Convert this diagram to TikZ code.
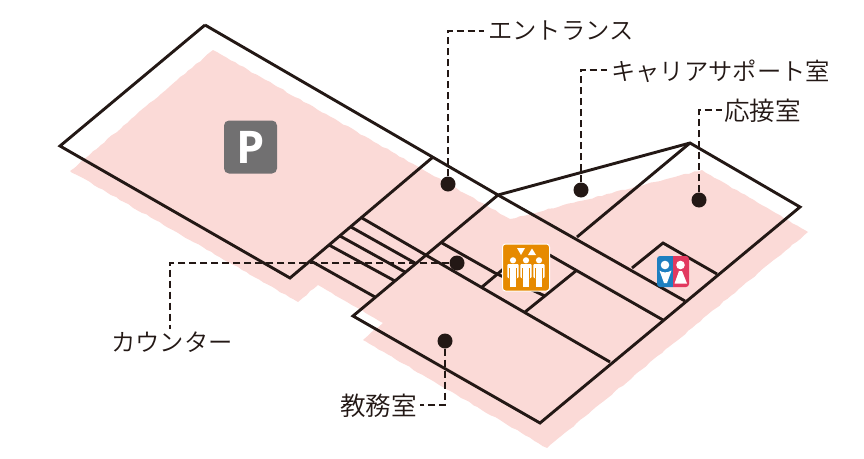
\documentclass[tikz,border=0pt]{standalone}
\usepackage{fontspec}
\setmainfont{Noto Sans CJK JP}[UprightFont=* DemiLight]
\newfontfamily\pfont{Open Sans}
\usetikzlibrary{decorations.pathmorphing}
\definecolor{ink}{HTML}{231815}
\definecolor{blush}{HTML}{FBDAD7}
\definecolor{liftorange}{HTML}{E68A00}
\definecolor{pgray}{HTML}{717071}
\definecolor{wcblue}{HTML}{1E7FC0}
\definecolor{wcred}{HTML}{E2395F}
\tikzset{
  wall/.style={draw=ink,line width=2.9pt,line join=miter},
  leader/.style={draw=ink,line width=1.7pt,dash pattern=on 7pt off 4pt},
  spot/.style={circle,fill=ink,minimum size=15pt,inner sep=0pt},
  kanalabel/.style={text=ink,font=\fontsize{24.3pt}{26pt}\selectfont,inner sep=0pt},
  kanjilabel/.style={text=ink,font=\fontsize{25.6pt}{27pt}\selectfont,inner sep=0pt},
  person/.style={fill=white}
}
\newcommand{\liftman}[1]{%
  \fill[person] (#1,260.3) circle (3.1);
  \fill[person,rounded corners=1] (#1-5.6,264) rectangle (#1+5.6,278);
  \fill[liftorange] (#1-3.7,268) rectangle (#1-3.2,278);
  \fill[liftorange] (#1+3.2,268) rectangle (#1+3.7,278);
  \fill[person] (#1-3.2,276) rectangle (#1-0.3,287);
  \fill[person] (#1+0.3,276) rectangle (#1+3.2,287);
}
\begin{document}
\begin{tikzpicture}[x=1pt,y=-1pt]
\useasboundingbox (0,0) rectangle (864,458);
% pink floor
\fill[blush,decorate,decoration={random steps,segment length=5pt,amplitude=0.6pt}]
  (213,50) -- (510,219) -- (702,170) -- (808,232) -- (547,448) -- (363,340)
  -- (383,323) -- (318,285) -- (298,302) -- (70,171) -- cycle;
% vertices
\coordinate (lotTop) at (205,25);
\coordinate (lotLeft) at (60,146);
\coordinate (lotBot) at (290,278);
\coordinate (lotIn) at (433,157);
\coordinate (hub) at (498,195);
\coordinate (apex) at (690,143);
\coordinate (east) at (800,207);
\coordinate (south) at (540,423);
\coordinate (west) at (353,316);
% outer walls
\draw[wall] (lotTop) -- (hub) -- (apex) -- (east) -- (south) -- (west) -- (hub);
\draw[wall] (lotTop) -- (lotLeft) -- (lotBot) -- (lotIn);
% interior walls
\draw[wall] (hub) -- (685,301);
\draw[wall] (apex) -- (577,237);
\draw[wall] (632,268) -- (663,243) -- (717,274);
\draw[wall] (362,218) -- (610,362);
\draw[wall] (351,227) -- (415,263);
\draw[wall] (340,236) -- (405,272);
\draw[wall] (329,245) -- (395,281);
\draw[wall] (311,261) -- (375,297);
\draw[wall] (442,243) -- (495,273) -- (545,296);
\draw[wall] (482,287) -- (532,245);
\draw[wall] (532,245) -- (663,320);
\draw[wall] (525,312) -- (577,270);
% leaders and labels
\node[spot] (dotEnt) at (448,184) {};
\node[spot] (dotCar) at (581,190) {};
\node[spot] (dotRec) at (699,200) {};
\node[spot] (dotCou) at (457,263) {};
\node[spot] (dotOff) at (445,341) {};
\node[kanalabel,anchor=west] (lblEnt) at (488,31) {エントランス};
\node[kanalabel,anchor=west] (lblCar) at (611,71) {キャリアサポート室};
\node[kanjilabel,anchor=west] (lblRec) at (724,111) {応接室};
\node[kanalabel,anchor=east] (lblCou) at (233,342) {カウンター};
\node[kanjilabel,anchor=east] (lblOff) at (417,406) {教務室};
\coordinate (bendEnt) at (448,31);
\coordinate (endEnt) at (484,31);
\coordinate (bendCar) at (581,70);
\coordinate (endCar) at (607,70);
\coordinate (bendRec) at (699,110);
\coordinate (endRec) at (722,110);
\coordinate (bendCou) at (170,263);
\coordinate (endCou) at (170,329);
\coordinate (bendOff) at (445,405);
\coordinate (endOff) at (420,405);
\draw[leader] (dotEnt) -- (bendEnt) -- (endEnt);
\draw[leader] (dotCar) -- (bendCar) -- (endCar);
\draw[leader] (dotRec) -- (bendRec) -- (endRec);
\draw[leader] (dotCou) -- (bendCou) -- (endCou);
\draw[leader] (dotOff) -- (bendOff) -- (endOff);
% parking icon
\node[fill=pgray,rounded corners=5pt,minimum size=53pt,inner sep=0pt,text=white,
      font=\pfont\bfseries\fontsize{45pt}{45pt}\selectfont] (parking) at (250.5,147) {P};
% lift icon
\node[fill=liftorange,draw=white,line width=1pt,rounded corners=3pt,minimum size=47pt,inner sep=0pt] (lift) at (526,267.5) {};
\fill[white] (517,248) -- (525,248) -- (521,255) -- cycle;
\fill[white] (528,255) -- (536,255) -- (532,248.5) -- cycle;
\liftman{513}
\liftman{526}
\liftman{539}
% toilet icon
\fill[wcblue,rounded corners=3pt] (657,256) rectangle (676,287);
\fill[wcred,rounded corners=3pt] (670,256) rectangle (689,287);
\fill[wcblue] (665,256) rectangle (673,287);
\fill[white] (665,265) circle (4.3);
\fill[white] (680.5,265) circle (4.3);
\fill[white] (659.5,270.5) .. controls (662,273) and (668,273) .. (671.5,270.5) -- (667,283) -- (664,283) -- cycle;
\fill[white] (679,271) -- (682,271) -- (687,283.5) -- (674.5,283.5) -- cycle;
\end{tikzpicture}
\end{document}
